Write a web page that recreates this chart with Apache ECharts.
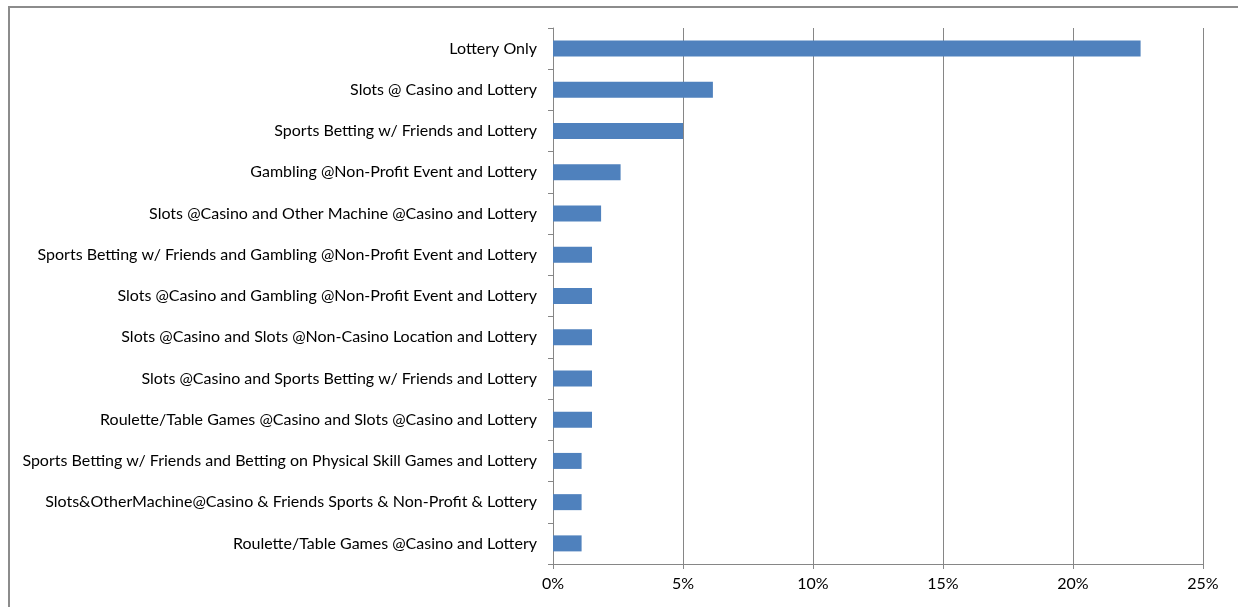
<!DOCTYPE html>
<html>
<head>
<meta charset="utf-8">
<script src="https://cdn.jsdelivr.net/npm/echarts@6/dist/echarts.min.js"></script>
<style>
  html, body { margin: 0; padding: 0; background: #fff; }
  #chart { width: 1238px; height: 607px; }
  #frame { position: absolute; left: 8px; top: 6px; width: 1300px; height: 700px;
           border-left: 2px solid #8c8c8c; border-top: 2px solid #8c8c8c; pointer-events: none; }
</style>
</head>
<body>
<div id="chart"></div>
<div id="frame"></div>
<script>
const categories = [
  'Lottery Only',
  'Slots @ Casino and Lottery',
  'Sports Betting w/ Friends and Lottery',
  'Gambling @Non-Profit Event and Lottery',
  'Slots @Casino and Other Machine @Casino and Lottery',
  'Sports Betting w/ Friends and Gambling @Non-Profit Event and Lottery',
  'Slots @Casino and Gambling @Non-Profit Event and Lottery',
  'Slots @Casino and Slots @Non-Casino Location and Lottery',
  'Slots @Casino and Sports Betting w/ Friends and Lottery',
  'Roulette/Table Games @Casino and Slots @Casino and Lottery',
  'Sports Betting w/ Friends and Betting on Physical Skill Games and Lottery',
  'Slots&OtherMachine@Casino & Friends Sports & Non-Profit & Lottery',
  'Roulette/Table Games @Casino and Lottery'
]
const shares = [22.6, 6.15, 5.0, 2.6, 1.85, 1.5, 1.5, 1.5, 1.5, 1.5, 1.1, 1.1, 1.1]

const axisGray = '#868686'
const chart = echarts.init(document.getElementById('chart'))

chart.setOption({
  animation: false,
  textStyle: { fontFamily: 'Lato, sans-serif' },
  grid: { left: 553, right: 35, top: 28, bottom: 43, containLabel: false },
  xAxis: {
    type: 'value',
    min: 0,
    max: 25,
    interval: 5,
    axisLine: { show: true, lineStyle: { color: axisGray } },
    axisTick: { show: true, length: 5, lineStyle: { color: axisGray } },
    splitLine: { show: true, lineStyle: { color: axisGray } },
    axisLabel: { formatter: '{value}%', color: '#000', fontSize: 16, margin: 12 }
  },
  yAxis: {
    type: 'category',
    inverse: true,
    data: categories,
    axisLine: { show: true, lineStyle: { color: axisGray } },
    axisTick: { show: true, length: 5, lineStyle: { color: axisGray } },
    splitLine: { show: false },
    axisLabel: { color: '#000', fontSize: 16, margin: 16 }
  },
  series: [
    {
      type: 'bar',
      data: shares,
      barWidth: 16,
      itemStyle: { color: '#4F81BD' }
    }
  ]
})
</script>
</body>
</html>
